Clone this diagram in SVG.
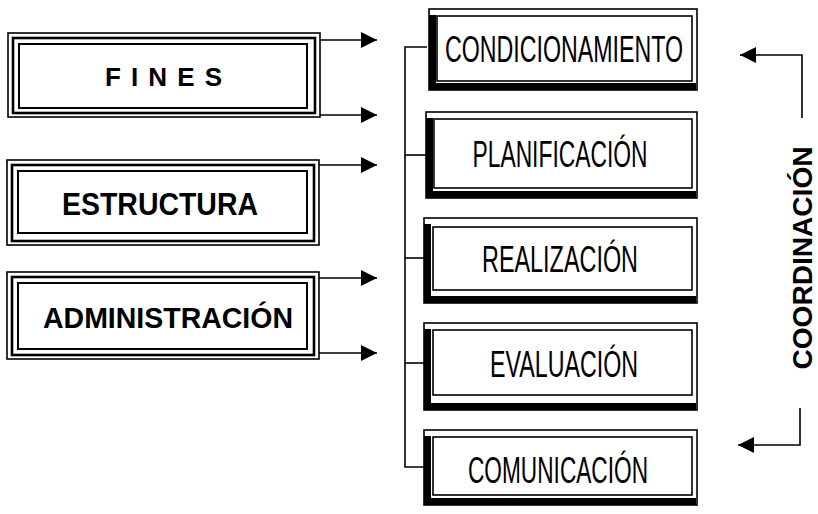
<svg xmlns="http://www.w3.org/2000/svg" width="818" height="514" viewBox="0 0 818 514">
<style>
.bg{fill:#fff}
.f{fill:none;stroke:#000}
.lbl{font-family:"Liberation Sans",Arial,sans-serif;font-weight:bold;fill:#000;text-anchor:middle}
.rl{font-family:"Liberation Sans",Arial,sans-serif;font-size:36px;fill:#000;text-anchor:middle}
.c{fill:none;stroke:#000;stroke-width:1.6}
.sh{fill:none;stroke:#000;stroke-width:7}
</style>
<defs>
<marker id="ah" markerUnits="userSpaceOnUse" markerWidth="17" markerHeight="16" refX="16" refY="8" orient="auto">
<path d="M0,0 L16,8 L0,16 z" fill="#000"/>
</marker>
</defs>
<rect class="bg" x="0" y="0" width="818" height="514"/>

<g id="fines">
<rect class="f" x="8" y="33" width="312" height="84" stroke-width="1.6"/>
<rect class="f" x="13" y="38" width="302" height="75" stroke-width="2.6"/>
<rect class="f" x="19" y="44" width="288" height="64" stroke-width="2"/>
<text class="lbl" x="163.5" y="86" font-size="26" textLength="117" lengthAdjust="spacing">FINES</text>
</g>
<g id="estructura">
<rect class="f" x="7" y="160" width="312" height="85" stroke-width="1.6"/>
<rect class="f" x="12" y="165" width="302" height="76" stroke-width="2.6"/>
<rect class="f" x="18" y="171" width="289" height="62" stroke-width="2"/>
<text class="lbl" x="160" y="215" font-size="31" textLength="196" lengthAdjust="spacingAndGlyphs">ESTRUCTURA</text>
</g>
<g id="administracion">
<rect class="f" x="7" y="272" width="312" height="87" stroke-width="1.6"/>
<rect class="f" x="12" y="277" width="302" height="78" stroke-width="2.6"/>
<rect class="f" x="18" y="283" width="289" height="66" stroke-width="2"/>
<text class="lbl" x="168" y="328" font-size="29" textLength="250" lengthAdjust="spacingAndGlyphs">ADMINISTRACIÓN</text>
</g>

<g id="condicionamiento">
<rect class="f" x="429" y="9" width="268" height="81" stroke-width="1.6"/>
<rect class="f" x="437" y="16" width="255" height="65" stroke-width="1.6"/>
<path class="sh" d="M432.5,15 V86.5 H696"/>
<text class="rl" x="564" y="62" textLength="238" lengthAdjust="spacingAndGlyphs">CONDICIONAMIENTO</text>
</g>
<g id="planificacion">
<rect class="f" x="426" y="112" width="271" height="86" stroke-width="1.6"/>
<rect class="f" x="434" y="119" width="258" height="69" stroke-width="1.6"/>
<path class="sh" d="M429.5,118 V194.5 H696"/>
<text class="rl" x="560" y="167" textLength="175" lengthAdjust="spacingAndGlyphs">PLANIFICACIÓN</text>
</g>
<g id="realizacion">
<rect class="f" x="424" y="218" width="273" height="85" stroke-width="1.6"/>
<rect class="f" x="433" y="227" width="259" height="63" stroke-width="1.6"/>
<path class="sh" d="M427.5,224 V299.5 H696"/>
<text class="rl" x="560" y="272" textLength="156" lengthAdjust="spacingAndGlyphs">REALIZACIÓN</text>
</g>
<g id="evaluacion">
<rect class="f" x="424" y="323" width="273" height="87" stroke-width="1.6"/>
<rect class="f" x="433" y="330" width="259" height="65" stroke-width="1.6"/>
<path class="sh" d="M427.5,329 V406.5 H696"/>
<text class="rl" x="564" y="377" textLength="148" lengthAdjust="spacingAndGlyphs">EVALUACIÓN</text>
</g>
<g id="comunicacion">
<rect class="f" x="424" y="430" width="273" height="75" stroke-width="1.6"/>
<rect class="f" x="433" y="437" width="259" height="58" stroke-width="1.6"/>
<path class="sh" d="M427.5,436 V501.5 H696"/>
<text class="rl" x="558" y="483" textLength="180" lengthAdjust="spacingAndGlyphs">COMUNICACIÓN</text>
</g>

<g id="coordinacion">
<text class="lbl" transform="translate(812,258) rotate(-90)" x="0" y="0" font-size="27" textLength="223" lengthAdjust="spacingAndGlyphs">COORDINACIÓN</text>
</g>

<g id="connectors">
<line class="c" x1="320" y1="40" x2="377" y2="40" marker-end="url(#ah)"/>
<line class="c" x1="320" y1="115" x2="377" y2="115" marker-end="url(#ah)"/>
<line class="c" x1="319" y1="165" x2="377" y2="165" marker-end="url(#ah)"/>
<line class="c" x1="319" y1="278" x2="377" y2="278" marker-end="url(#ah)"/>
<line class="c" x1="319" y1="353" x2="377" y2="353" marker-end="url(#ah)"/>
<path class="c" d="M427,47 H405 V467 H425"/>
<path class="c" d="M405,155 H426"/>
<path class="c" d="M405,258 H424"/>
<path class="c" d="M405,363 H424"/>
<path class="c" d="M802,118 V55 H740" marker-end="url(#ah)"/>
<path class="c" d="M800,408 V445 H738" marker-end="url(#ah)"/>
</g>
</svg>
